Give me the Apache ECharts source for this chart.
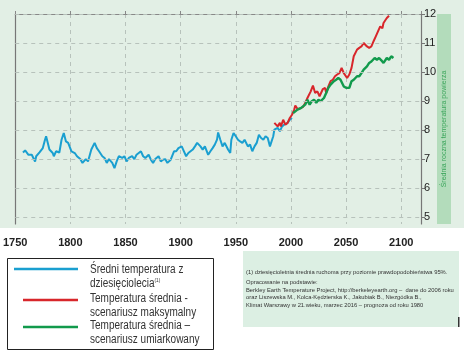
<!DOCTYPE html>
<html><head><meta charset="utf-8">
<script src="https://cdn.jsdelivr.net/npm/echarts@6/dist/echarts.min.js"></script>
<style>html,body{margin:0;padding:0;background:#fff}#c{width:464px;height:357px}</style>
</head><body><div id="c"></div>
<script>
const yAxisTicks = [5, 6, 7, 8, 9, 10, 11, 12];
const xAxisTicks = [1750, 1800, 1850, 1900, 1950, 2000, 2050, 2100];

const blueYears = [1757,1759,1762,1765,1768,1769,1772,1775,1777,1778,1779,1781,1784,1785,1787,1790,1792,1794,1796,1798,1801,1804,1806,1809,1811,1814,1816,1819,1822,1824,1826,1829,1831,1833,1835,1838,1840,1842,1844,1847,1849,1851,1853,1856,1858,1860,1862,1864,1866,1868,1871,1873,1875,1877,1880,1882,1884,1886,1888,1891,1894,1896,1898,1901,1903,1905,1907,1909,1911,1913,1915,1918,1920,1922,1925,1927,1929,1931,1933,1934,1936,1938,1940,1943,1945,1946,1948,1950,1952,1954,1956,1958,1961,1963,1965,1967,1969,1971,1973,1975,1977,1979,1981,1982,1984,1985,1988,1990,1992,1994,1997,1999,2001];
const blueValues = [7.22,7.29,7.14,7.14,6.91,7.09,7.22,7.37,7.66,7.78,7.72,7.32,7.20,7.09,7.26,7.22,7.66,7.89,7.60,7.55,7.26,7.20,7.09,6.99,6.86,6.99,6.91,7.32,7.55,7.37,7.26,7.09,7.03,6.86,6.99,6.86,6.68,6.91,7.09,7.03,7.09,6.91,7.03,7.09,6.99,7.14,7.20,7.26,7.09,7.03,7.14,6.97,6.86,6.99,7.09,6.91,6.97,6.99,6.86,6.97,7.26,7.26,7.37,7.43,7.26,7.09,7.20,7.26,7.32,7.43,7.55,7.43,7.32,7.43,7.14,7.26,7.37,7.49,7.66,7.91,7.66,7.43,7.55,7.32,7.20,7.66,7.89,7.78,7.66,7.60,7.55,7.66,7.43,7.49,7.26,7.43,7.55,7.83,7.72,7.66,7.78,7.72,7.43,7.37,7.78,8.01,8.07,7.95,8.12,8.18,8.24,8.35,8.41];

const redYears = [1985,1986,1988,1990,1991,1993,1995,1997,1999,2001,2003,2004,2006,2009,2011,2013,2015,2018,2020,2022,2024,2026,2029,2031,2032,2034,2036,2038,2040,2042,2044,2046,2048,2051,2053,2055,2057,2060,2062,2064,2066,2069,2071,2073,2075,2077,2079,2081,2083,2084,2087,2089];
const redValues = [8.24,8.18,8.12,8.24,8.12,8.35,8.18,8.24,8.41,8.52,8.70,8.84,8.72,8.75,8.79,8.93,9.10,9.33,9.53,9.27,9.33,9.16,9.41,9.45,9.27,9.50,9.68,9.73,9.85,9.91,9.96,10.14,9.96,9.79,9.91,10.14,10.54,10.77,10.83,10.88,11.00,10.88,10.83,10.88,11.06,11.23,11.40,11.57,11.51,11.69,11.86,11.94];

const greenYears = [2002,2004,2006,2009,2011,2013,2015,2017,2019,2021,2023,2025,2027,2030,2032,2034,2036,2039,2041,2043,2045,2048,2050,2053,2055,2057,2060,2062,2064,2066,2069,2071,2073,2076,2078,2080,2082,2084,2087,2089,2091,2093];
const greenValues = [8.58,8.64,8.70,8.75,8.81,8.87,9.04,8.87,8.99,9.04,8.93,9.04,8.99,9.10,9.27,9.45,9.56,9.68,9.73,9.79,9.73,9.50,9.45,9.45,9.68,9.73,9.85,9.85,9.96,10.08,10.19,10.31,10.36,10.48,10.42,10.48,10.40,10.31,10.48,10.42,10.54,10.48];

const seriesNames = ['Średni temperatura z dziesięciolecia', 'Temperatura średnia - scenariusz maksymalny', 'Temperatura średnia – scenariusz umiarkowany'];
const axisTitle = 'Średnia roczna temperatura powierza';
const noteLines = [
  '(1) dziesięcioletnia średnia ruchoma przy poziomie prawdopodobieństwa 95%.',
  'Opracowanie na podstawie:',
  'Berkley Earth Temperature Project, http://berkeleyearth.org –  dane do 2006 roku',
  'oraz Liszewska M., Kolca-Kędzierska K., Jakubiak B., Niezgódka B.,',
  'Klimat Warszawy w 21.wieku, marzec 2016 – prognoza od roku 1980'
];

const zip = (xs, ys) => xs.map((x, i) => [x, ys[i]]);
const chart = echarts.init(document.getElementById('c'), null, {renderer: 'canvas'});
const FONT = 'Liberation Sans, Arial, sans-serif';
const LFONT = '12.5px "Liberation Sans", sans-serif';
const BG = '#e2efe5';
const SX = 0.8;

const graphics = [
  {type: 'rect', z: -10, silent: true, shape: {x: 0, y: 0, width: 464, height: 228}, style: {fill: BG}},
  {type: 'rect', z: -5, silent: true, shape: {x: 437, y: 14, width: 14, height: 210}, style: {fill: '#b3dcbb'}},
  {type: 'text', silent: true, x: 444, y: 129, rotation: Math.PI / 2,
   style: {text: axisTitle, font: '7px ' + FONT, fill: '#3aa55a', align: 'center', verticalAlign: 'middle'}},
  // legend box
  {type: 'rect', silent: true, shape: {x: 7.5, y: 258.5, width: 206, height: 91}, style: {fill: '#fff', stroke: '#222', lineWidth: 1}},
  {type: 'line', silent: true, shape: {x1: 14, y1: 269, x2: 78, y2: 269}, style: {stroke: '#1a9fd0', lineWidth: 2.5}},
  {type: 'line', silent: true, shape: {x1: 23, y1: 300, x2: 78, y2: 300}, style: {stroke: '#d8262b', lineWidth: 2.5}},
  {type: 'line', silent: true, shape: {x1: 23, y1: 327, x2: 78, y2: 327}, style: {stroke: '#119a4c', lineWidth: 2.5}},
  {type: 'text', silent: true, x: 90, y: 263, scaleX: SX, style: {
    text: '{a|Średni temperatura z}\n{a|dziesięciolecia}{s|(1)}', verticalAlign: 'top',
    rich: {a: {font: LFONT, fill: '#333', lineHeight: 14}, s: {font: '6px ' + FONT, fill: '#333', lineHeight: 14, verticalAlign: 'top', padding: [0, 0, 6, 0]}}
  }},
  {type: 'text', silent: true, x: 90, y: 292, scaleX: SX, style: {text: 'Temperatura średnia -\nscenariusz maksymalny', font: LFONT, fill: '#333', lineHeight: 13.5, verticalAlign: 'top'}},
  {type: 'text', silent: true, x: 90, y: 319, scaleX: SX, style: {text: 'Temperatura średnia –\nscenariusz umiarkowany', font: LFONT, fill: '#333', lineHeight: 13.5, verticalAlign: 'top'}},
  // note box
  {type: 'rect', silent: true, shape: {x: 243, y: 251, width: 216, height: 76}, style: {fill: '#dcefe3'}},
  {type: 'text', silent: true, x: 246, y: 272, style: {text: noteLines[0], font: '5.8px ' + FONT, fill: '#333', verticalAlign: 'middle'}},
  {type: 'text', silent: true, x: 246, y: 282, style: {text: noteLines[1], font: '5.8px ' + FONT, fill: '#333', verticalAlign: 'middle'}},
  {type: 'text', silent: true, x: 246, y: 290, style: {text: noteLines[2], font: '5.8px ' + FONT, fill: '#333', verticalAlign: 'middle'}},
  {type: 'text', silent: true, x: 246, y: 297.5, style: {text: noteLines[3], font: '5.8px ' + FONT, fill: '#333', verticalAlign: 'middle'}},
  {type: 'text', silent: true, x: 246, y: 305, style: {text: noteLines[4], font: '5.8px ' + FONT, fill: '#333', verticalAlign: 'middle'}},
  {type: 'rect', silent: true, shape: {x: 458, y: 317, width: 1.5, height: 10}, style: {fill: '#333'}}
];

chart.setOption({
  animation: false,
  backgroundColor: '#fff',
  grid: {left: 12, right: 43, top: 14, bottom: 133, containLabel: false},
  xAxis: [{
    type: 'value', min: 1750, max: 2118, interval: 50, position: 'bottom',
    axisLine: {show: false}, axisTick: {show: false},
    axisLabel: {margin: 13, fontWeight: 'bold', fontSize: 11, color: '#222', fontFamily: FONT,
      customValues: xAxisTicks, formatter: v => String(v)},
    splitLine: {show: true, lineStyle: {color: '#b7c2bb', type: [4, 4], width: 1}}
  }, {
    type: 'value', min: 1750, max: 2118, interval: 50, position: 'top',
    axisLine: {show: true, lineStyle: {color: '#888', width: 1.2}},
    axisTick: {show: true, inside: false, length: 3, lineStyle: {color: '#888'}},
    axisLabel: {show: false}, splitLine: {show: false}
  }],
  yAxis: [{
    type: 'value', min: 4.75, max: 12, position: 'right',
    axisLine: {show: true, lineStyle: {color: '#777', width: 1.2}},
    axisTick: {show: true, inside: false, length: 4, customValues: yAxisTicks, lineStyle: {color: '#777'}},
    axisLabel: {show: true, margin: 3, fontSize: 11, color: '#222', fontFamily: FONT, customValues: yAxisTicks},
    splitLine: {show: false}
  }, {
    type: 'value', min: 4.75, max: 12, position: 'left',
    axisLine: {show: true, lineStyle: {color: '#777', width: 1.2}},
    axisTick: {show: false}, axisLabel: {show: false}, splitLine: {show: false}
  }],
  series: [
    {name: 'grid', type: 'line', data: [], markLine: {silent: true, symbol: 'none', label: {show: false},
      lineStyle: {color: '#b7c2bb', type: [4, 4], width: 1}, data: yAxisTicks.map(v => ({yAxis: v}))}},
    {name: seriesNames[0], type: 'line', data: zip(blueYears, blueValues), showSymbol: false, symbol: 'none',
      lineStyle: {color: '#1a9fd0', width: 2}, z: 3},
    {name: seriesNames[1], type: 'line', data: zip(redYears, redValues), showSymbol: false, symbol: 'none',
      lineStyle: {color: '#d8262b', width: 2}, z: 4},
    {name: seriesNames[2], type: 'line', data: zip(greenYears, greenValues), showSymbol: false, symbol: 'none',
      lineStyle: {color: '#119a4c', width: 2.4}, z: 4}
  ],
  graphic: graphics
});
</script></body></html>
